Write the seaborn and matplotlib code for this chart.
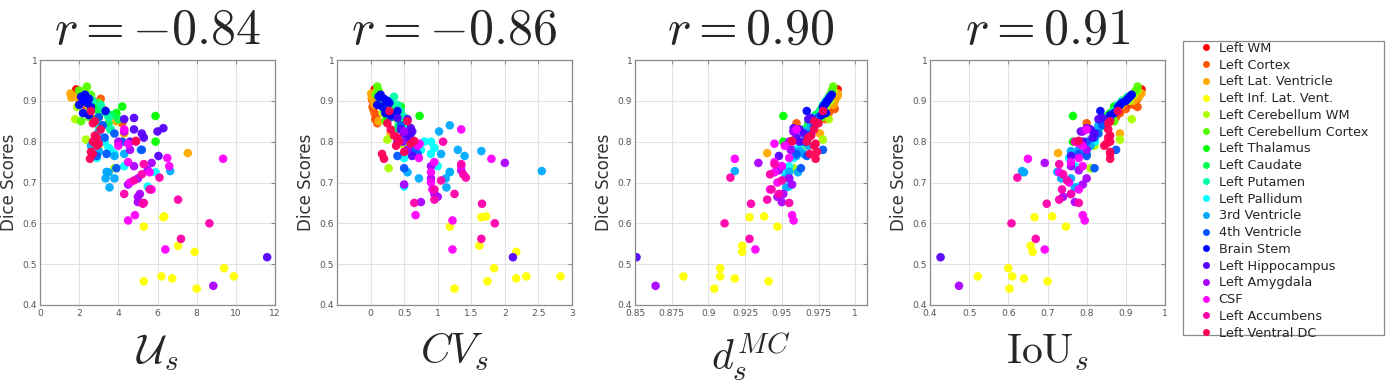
import colorsys
import numpy as np
import pandas as pd
import matplotlib
matplotlib.use("Agg")
import matplotlib.pyplot as plt
import seaborn as sns
from matplotlib.lines import Line2D
from matplotlib.patches import Rectangle

categories = ["Left WM", "Left Cortex", "Left Lat. Ventricle", "Left Inf. Lat. Vent.",
              "Left Cerebellum WM", "Left Cerebellum Cortex", "Left Thalamus", "Left Caudate",
              "Left Putamen", "Left Pallidum", "3rd Ventricle", "4th Ventricle", "Brain Stem",
              "Left Hippocampus", "Left Amygdala", "CSF", "Left Accumbens", "Left Ventral DC"]

titles = ["$r = -0.84$", "$r = -0.86$", "$r = 0.90$", "$r = 0.91$"]
xlabels = [r"$\mathcal{U}_s$", r"$CV_s$", r"$d_s^{MC}$", r"$\mathrm{IoU}_s$"]

# Dice scores per structure
dice = [
    [0.928, 0.922, 0.915, 0.91, 0.905, 0.90, 0.895, 0.89],
    [0.905, 0.9, 0.89, 0.88, 0.87, 0.86, 0.855, 0.845, 0.885],
    [0.918, 0.908, 0.912, 0.9, 0.89, 0.85, 0.772, 0.82],
    [0.592, 0.615, 0.617, 0.545, 0.53, 0.49, 0.47, 0.47, 0.465, 0.44, 0.458],
    [0.925, 0.915, 0.9, 0.885, 0.87, 0.855, 0.805, 0.735, 0.79],
    [0.935, 0.925, 0.915, 0.905, 0.895, 0.885, 0.875, 0.86, 0.85],
    [0.886, 0.87, 0.865, 0.86, 0.8, 0.88, 0.895, 0.863],
    [0.88, 0.875, 0.87, 0.865, 0.855, 0.845, 0.83],
    [0.91, 0.9, 0.89, 0.875, 0.86, 0.84, 0.83],
    [0.8, 0.785, 0.78, 0.775, 0.76, 0.74, 0.725, 0.69, 0.77, 0.80],
    [0.84, 0.825, 0.78, 0.777, 0.765, 0.728, 0.726, 0.71, 0.71, 0.688, 0.725, 0.77, 0.79],
    [0.86, 0.84, 0.82, 0.81, 0.8, 0.78, 0.77, 0.735, 0.765],
    [0.915, 0.91, 0.905, 0.9, 0.895, 0.89, 0.885, 0.875, 0.87, 0.865],
    [0.858, 0.855, 0.833, 0.83, 0.82, 0.825, 0.81, 0.765, 0.517, 0.8],
    [0.825, 0.8, 0.78, 0.748, 0.74, 0.73, 0.71, 0.695, 0.672, 0.665, 0.652, 0.447],
    [0.83, 0.795, 0.76, 0.758, 0.75, 0.74, 0.725, 0.7, 0.683, 0.62, 0.607, 0.536, 0.79],
    [0.8, 0.745, 0.72, 0.712, 0.705, 0.683, 0.672, 0.658, 0.648, 0.6, 0.562, 0.65],
    [0.875, 0.85, 0.83, 0.815, 0.81, 0.8, 0.795, 0.79, 0.775, 0.758, 0.77, 0.802, 0.845],
]

u_s = [
    [1.85, 2.0, 2.2, 2.1, 2.4, 2.6, 3.0, 2.3],
    [3.1, 2.7, 2.9, 3.2, 2.5, 3.0, 2.8, 4.2, 2.6],
    [1.55, 1.6, 1.7, 2.0, 2.4, 3.9, 7.55, 4.3],
    [5.3, 6.3, 6.35, 7.05, 7.9, 9.4, 9.9, 6.2, 6.75, 8.0, 5.3],
    [2.3, 2.1, 2.5, 1.9, 2.3, 1.8, 2.35, 3.8, 3.0],
    [2.4, 2.0, 2.6, 2.2, 3.0, 2.8, 3.3, 2.5, 2.1],
    [4.2, 3.9, 3.5, 3.0, 5.9, 2.9, 2.5, 5.9],
    [2.6, 3.0, 3.4, 3.7, 4.0, 3.5, 3.6],
    [2.4, 2.7, 3.1, 3.3, 3.5, 3.0, 3.6],
    [3.3, 3.5, 3.6, 3.0, 2.9, 4.3, 5.9, 5.5, 3.8, 3.0],
    [3.2, 3.0, 5.15, 3.0, 3.8, 6.65, 3.4, 3.35, 3.8, 3.55, 3.5, 4.3, 2.6],
    [3.0, 3.2, 3.8, 3.3, 4.2, 5.2, 3.4, 3.9, 2.9],
    [2.3, 2.1, 2.5, 2.2, 2.4, 2.0, 2.6, 3.35, 2.2, 2.5],
    [4.8, 4.3, 6.3, 4.8, 5.2, 6.0, 5.3, 6.05, 11.6, 4.6],
    [4.3, 4.0, 4.6, 5.7, 4.8, 5.5, 5.0, 4.5, 5.1, 5.0, 5.0, 8.85],
    [4.3, 4.5, 6.5, 9.35, 4.5, 6.6, 5.6, 4.6, 5.7, 4.85, 4.5, 6.4, 4.0],
    [4.9, 5.3, 5.2, 6.1, 4.8, 5.6, 4.3, 7.05, 5.25, 8.65, 7.2, 5.3],
    [2.6, 2.8, 3.1, 2.8, 2.9, 2.7, 3.0, 2.9, 2.6, 2.55, 2.7, 4.9, 2.7],
]

cv_s = [
    [0.06, 0.08, 0.1, 0.07, 0.12, 0.1, 0.15, 0.09],
    [0.02, 0.03, 0.05, 0.04, 0.06, 0.08, 0.07, 0.1, 0.03],
    [0.01, 0.02, 0.03, 0.05, 0.06, 0.12, 0.55, 0.3],
    [1.18, 1.65, 1.72, 1.62, 2.17, 1.84, 2.83, 2.32, 2.17, 1.25, 1.74],
    [0.1, 0.12, 0.15, 0.2, 0.18, 0.25, 0.25, 0.27, 0.5],
    [0.1, 0.12, 0.08, 0.15, 0.2, 0.25, 0.3, 0.35, 0.22],
    [0.45, 0.38, 0.3, 0.25, 0.5, 0.2, 0.15, 0.73],
    [0.3, 0.35, 0.4, 0.45, 0.5, 0.42, 0.38],
    [0.35, 0.3, 0.4, 0.45, 0.5, 0.55, 0.48],
    [0.8, 0.95, 0.75, 0.6, 0.5, 1.0, 1.18, 0.5, 0.9, 0.9],
    [1.18, 1.02, 1.3, 1.65, 1.4, 2.55, 1.18, 0.72, 1.12, 1.13, 0.55, 1.05, 0.7],
    [0.3, 0.45, 0.6, 0.55, 0.62, 0.65, 0.7, 0.5, 0.4],
    [0.15, 0.12, 0.2, 0.25, 0.28, 0.1, 0.18, 0.4, 0.22, 0.3],
    [0.4, 0.55, 0.6, 0.45, 0.5, 0.62, 0.58, 0.62, 2.12, 0.4],
    [0.5, 0.48, 0.55, 2.0, 0.9, 1.35, 0.9, 0.5, 0.95, 1.0, 0.75, 3.2],
    [1.35, 0.73, 0.72, 1.8, 0.95, 1.35, 0.9, 0.9, 0.92, 0.67, 1.22, 1.22, 0.7],
    [1.08, 1.35, 1.38, 1.42, 1.05, 0.95, 1.25, 0.95, 1.66, 1.85, 1.65, 0.65],
    [0.28, 0.55, 0.3, 0.35, 0.4, 0.42, 0.6, 0.38, 0.5, 0.2, 0.17, 0.65, 0.25],
]

dmc_s = [
    [0.988, 0.987, 0.986, 0.987, 0.985, 0.986, 0.984, 0.985],
    [0.986, 0.985, 0.984, 0.986, 0.982, 0.981, 0.98, 0.96, 0.985],
    [0.988, 0.987, 0.988, 0.986, 0.985, 0.975, 0.94, 0.976],
    [0.947, 0.928, 0.938, 0.923, 0.923, 0.908, 0.883, 0.908, 0.918, 0.904, 0.941],
    [0.985, 0.984, 0.983, 0.98, 0.979, 0.982, 0.978, 0.958, 0.965],
    [0.985, 0.984, 0.983, 0.982, 0.98, 0.978, 0.976, 0.977, 0.975],
    [0.978, 0.976, 0.975, 0.972, 0.951, 0.977, 0.98, 0.951],
    [0.978, 0.976, 0.975, 0.973, 0.97, 0.968, 0.965],
    [0.982, 0.98, 0.978, 0.976, 0.972, 0.97, 0.968],
    [0.965, 0.962, 0.96, 0.963, 0.958, 0.955, 0.952, 0.955, 0.96, 0.965],
    [0.97, 0.966, 0.957, 0.962, 0.96, 0.918, 0.955, 0.952, 0.955, 0.953, 0.961, 0.965, 0.968],
    [0.975, 0.972, 0.97, 0.968, 0.965, 0.978, 0.96, 0.963, 0.967],
    [0.984, 0.983, 0.982, 0.981, 0.98, 0.979, 0.978, 0.967, 0.98, 0.977],
    [0.97, 0.968, 0.958, 0.962, 0.965, 0.958, 0.96, 0.948, 0.851, 0.962],
    [0.958, 0.955, 0.956, 0.934, 0.95, 0.948, 0.955, 0.957, 0.951, 0.947, 0.95, 0.864],
    [0.96, 0.945, 0.955, 0.918, 0.945, 0.95, 0.945, 0.947, 0.942, 0.957, 0.958, 0.932, 0.952],
    [0.957, 0.945, 0.942, 0.915, 0.95, 0.943, 0.948, 0.94, 0.929, 0.911, 0.928, 0.955],
    [0.978, 0.972, 0.972, 0.97, 0.968, 0.967, 0.973, 0.972, 0.974, 0.973, 0.969, 0.957, 0.975],
]

iou_s = [
    [0.94, 0.935, 0.93, 0.925, 0.92, 0.915, 0.91, 0.905],
    [0.93, 0.925, 0.92, 0.9, 0.885, 0.875, 0.86, 0.8, 0.93],
    [0.94, 0.93, 0.935, 0.92, 0.89, 0.87, 0.727, 0.885],
    [0.747, 0.667, 0.712, 0.657, 0.662, 0.60, 0.522, 0.61, 0.64, 0.603, 0.70],
    [0.93, 0.92, 0.91, 0.88, 0.87, 0.915, 0.885, 0.81, 0.82],
    [0.93, 0.925, 0.915, 0.9, 0.89, 0.88, 0.87, 0.86, 0.87],
    [0.87, 0.86, 0.855, 0.85, 0.765, 0.87, 0.89, 0.765],
    [0.88, 0.87, 0.865, 0.86, 0.85, 0.84, 0.83],
    [0.905, 0.89, 0.88, 0.87, 0.855, 0.84, 0.83],
    [0.82, 0.8, 0.78, 0.76, 0.755, 0.77, 0.73, 0.78, 0.77, 0.82],
    [0.83, 0.82, 0.78, 0.76, 0.775, 0.635, 0.725, 0.735, 0.76, 0.77, 0.64, 0.8, 0.81],
    [0.86, 0.84, 0.83, 0.82, 0.8, 0.875, 0.78, 0.82, 0.8],
    [0.915, 0.91, 0.905, 0.9, 0.89, 0.885, 0.88, 0.835, 0.87, 0.86],
    [0.84, 0.83, 0.8, 0.81, 0.82, 0.785, 0.815, 0.76, 0.427, 0.79],
    [0.79, 0.78, 0.8, 0.693, 0.76, 0.78, 0.8, 0.79, 0.76, 0.74, 0.77, 0.474],
    [0.8, 0.78, 0.78, 0.65, 0.76, 0.79, 0.73, 0.755, 0.78, 0.79, 0.795, 0.693, 0.79],
    [0.77, 0.73, 0.74, 0.623, 0.75, 0.737, 0.76, 0.73, 0.698, 0.608, 0.67, 0.78],
    [0.88, 0.86, 0.855, 0.86, 0.855, 0.86, 0.85, 0.845, 0.86, 0.86, 0.86, 0.78, 0.855],
]

# long-form table
rows = []
for ci, cat in enumerate(categories):
    for k in range(len(dice[ci])):
        rows.append({"Structure": cat, "Dice": dice[ci][k], "U": u_s[ci][k],
                     "CV": cv_s[ci][k], "DMC": dmc_s[ci][k], "IoU": iou_s[ci][k]})
df = pd.DataFrame(rows)

palette = {c: colorsys.hsv_to_rgb(i / 18.0, 1.0, 1.0) for i, c in enumerate(categories)}

sns.set_style("white")
plt.rcParams["font.family"] = ["DejaVu Sans"]
plt.rcParams["mathtext.fontset"] = "cm"

W, H = 1394, 387
fig = plt.figure(figsize=(W / 100, H / 100), dpi=100)

boxes = [(40, 275), (337, 572), (635, 867), (930, 1165)]
top_px, bot_px = 60, 305
xcols = ["U", "CV", "DMC", "IoU"]
xlims = [(0, 12), (-0.5, 3), (0.85, 1.008), (0.4, 1.0)]
xticks = [np.arange(0, 12.01, 2), np.arange(0, 3.01, 0.5),
          np.arange(0.85, 1.0001, 0.025), np.arange(0.4, 1.001, 0.1)]
yticks = np.arange(0.4, 1.001, 0.1)

for i in range(4):
    l, r = boxes[i]
    ax = fig.add_axes([l / W, (H - bot_px) / H, (r - l) / W, (bot_px - top_px) / H])
    sns.scatterplot(data=df, x=xcols[i], y="Dice", hue="Structure", palette=palette,
                    hue_order=categories, s=38, linewidth=0, alpha=0.95, ax=ax, legend=False)
    ax.set_xlim(*xlims[i])
    ax.set_ylim(0.4, 1.0)
    ax.set_xticks(xticks[i])
    ax.set_xticklabels(["%g" % round(v, 3) for v in xticks[i]])
    ax.set_yticks(yticks)
    ax.set_yticklabels(["%g" % round(v, 1) for v in yticks])
    ax.grid(True, color="#e3e3e3", linewidth=0.8)
    ax.set_axisbelow(True)
    for sp in ax.spines.values():
        sp.set_color("#8c8c8c")
        sp.set_linewidth(0.9)
    ax.tick_params(axis="both", direction="in", length=3, color="#8c8c8c",
                   labelsize=6.6, labelcolor="#555555", top=True, right=True)
    ax.tick_params(axis="x", pad=3)
    ax.tick_params(axis="y", pad=2)
    ax.set_ylabel("Dice Scores", fontsize=12, color="#333333", labelpad=3)
    ax.set_xlabel(xlabels[i], fontsize=30, labelpad=9)
    ax.set_title(titles[i], fontsize=36, pad=12)

# legend frame and entries
fig.patches.append(Rectangle((1183 / W, 1 - 335 / H), (1384 - 1183) / W, (335 - 41) / H,
                             transform=fig.transFigure, fill=False, edgecolor="#8c8c8c",
                             linewidth=0.9))
handles = [Line2D([0], [0], marker="o", linestyle="", markersize=5,
                  markerfacecolor=palette[c], markeredgewidth=0, label=c) for c in categories]
leg = fig.legend(handles=handles, loc="upper left", bbox_to_anchor=(1200 / W, 1 - 42 / H),
                 frameon=False, fontsize=9.3, handletextpad=0.45, labelspacing=0.29,
                 borderpad=0, borderaxespad=0, handlelength=1.0)

fig.savefig("out.png", dpi=100)
